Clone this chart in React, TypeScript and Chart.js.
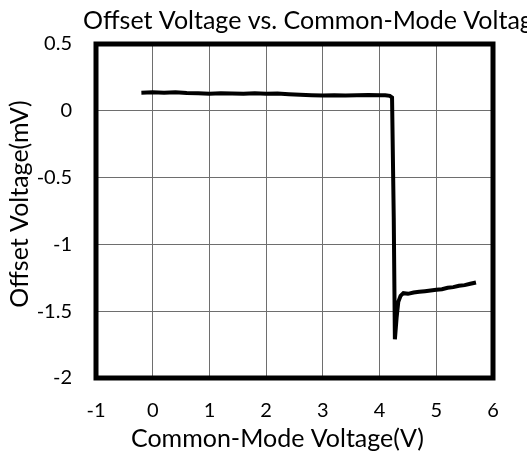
import React, { useEffect, useRef } from 'react';
import { Chart, registerables } from 'chart.js';

Chart.register(...registerables);

// ---- data ----
const voltageX: number[] = [
  -0.2, 0.0, 0.2, 0.4, 0.6, 0.8, 1.0, 1.2, 1.4, 1.6, 1.8, 2.0, 2.2, 2.4, 2.6, 2.8, 3.0,
  3.2, 3.4, 3.6, 3.8, 4.0, 4.1, 4.18, 4.22, 4.25, 4.27, 4.30, 4.33, 4.37, 4.42, 4.5,
  4.6, 4.7, 4.8, 4.9, 5.0, 5.1, 5.2, 5.3, 5.4, 5.5, 5.6, 5.7,
];
const offsetY: number[] = [
  0.135, 0.138, 0.136, 0.139, 0.133, 0.131, 0.128, 0.132, 0.130, 0.127, 0.131, 0.128, 0.129, 0.124, 0.120, 0.117, 0.114,
  0.116, 0.115, 0.117, 0.118, 0.116, 0.117, 0.112, 0.10, -0.80, -1.71, -1.55, -1.43, -1.385, -1.365, -1.37,
  -1.36, -1.355, -1.35, -1.345, -1.34, -1.335, -1.325, -1.32, -1.31, -1.305, -1.295, -1.285,
];

const xTickValues: number[] = [-1, 0, 1, 2, 3, 4, 5, 6];
const xTickLabels: string[] = ['-1', '0', '1', '2', '3', '4', '5', '6'];
const yTickValues: number[] = [0.5, 0, -0.5, -1, -1.5, -2];
const yTickLabels: string[] = ['0.5', '0', '-0.5', '-1', '-1.5', '-2'];

const chartTitle = 'Offset Voltage vs. Common-Mode Voltage';
const xAxisTitle = 'Common-Mode Voltage(V)';
const yAxisTitle = 'Offset Voltage(mV)';

const FONT = 'Lato, "Open Sans", sans-serif';
const TITLE_SIZE = 25;

const labelFor = (values: number[], labels: string[], v: number) => {
  const i = values.findIndex((t) => Math.abs(t - v) < 1e-9);
  return i >= 0 ? labels[i] : '';
};

// chart title and axis titles, placed as in the reference (Excel-style layout)
const textPlugin = {
  id: 'excelTexts',
  afterDraw(chart: any) {
    const { ctx, chartArea } = chart;
    ctx.save();
    ctx.font = `${TITLE_SIZE}px ${FONT}`;
    ctx.fillStyle = '#000';
    ctx.textBaseline = 'alphabetic';
    // chart title (overflows the right edge like the reference)
    ctx.textAlign = 'left';
    ctx.fillText(chartTitle, 83, 29);
    // x axis title
    ctx.textAlign = 'center';
    ctx.fillText(xAxisTitle, chartArea.left + (chartArea.right - chartArea.left) * 0.457, 447);
    // y axis title
    ctx.translate(28, chartArea.top + (chartArea.bottom - chartArea.top) * 0.479);
    ctx.rotate(-Math.PI / 2);
    ctx.fillText(yAxisTitle, 0, 0);
    ctx.restore();
  },
};

const framePlugin = {
  id: 'frame',
  afterDraw(chart: any) {
    const { ctx, chartArea } = chart;
    ctx.save();
    ctx.strokeStyle = '#000';
    ctx.lineWidth = 5;
    ctx.lineJoin = 'miter';
    ctx.strokeRect(
      chartArea.left,
      chartArea.top,
      chartArea.right - chartArea.left,
      chartArea.bottom - chartArea.top
    );
    ctx.restore();
  },
};

export default function App() {
  const ref = useRef<HTMLCanvasElement | null>(null);

  useEffect(() => {
    if (!ref.current) return;
    const points = voltageX.map((x, i) => ({ x, y: offsetY[i] }));
    const chart = new Chart(ref.current, {
      type: 'scatter',
      data: {
        datasets: [
          {
            data: points,
            showLine: true,
            borderColor: '#000',
            backgroundColor: '#000',
            borderWidth: 4,
            pointRadius: 0,
            tension: 0,
          },
        ],
      },
      options: {
        animation: false,
        responsive: false,
        devicePixelRatio: 1,
        layout: { padding: { top: 44, right: 34, left: 0, bottom: 0 } },
        plugins: {
          legend: { display: false },
          title: { display: false },
          tooltip: { enabled: false },
        },
        scales: {
          x: {
            type: 'linear',
            min: -1,
            max: 6,
            afterFit: (s: any) => {
              s.height = 73;
            },
            afterBuildTicks: (s: any) => {
              s.ticks = xTickValues.map((v) => ({ value: v }));
            },
            ticks: {
              padding: 21,
              color: '#000',
              font: { family: FONT, size: 20 },
              callback: (v: any) => labelFor(xTickValues, xTickLabels, Number(v)),
            },
            grid: { color: '#6e6e6e', lineWidth: 1, drawTicks: false },
            border: { display: false },
          },
          y: {
            type: 'linear',
            min: -2,
            max: 0.5,
            afterFit: (s: any) => {
              s.width = 96;
            },
            afterBuildTicks: (s: any) => {
              s.ticks = yTickValues.map((v) => ({ value: v }));
            },
            ticks: {
              padding: 24,
              color: '#000',
              font: { family: FONT, size: 20 },
              callback: (v: any) => labelFor(yTickValues, yTickLabels, Number(v)),
            },
            grid: { color: '#6e6e6e', lineWidth: 1, drawTicks: false },
            border: { display: false },
          },
        },
      },
      plugins: [textPlugin, framePlugin],
    });
    return () => chart.destroy();
  }, []);

  return (
    <div style={{ position: 'fixed', left: 0, top: 0, width: 527, height: 451, overflow: 'hidden', background: '#fff' }}>
      <canvas ref={ref} width={527} height={451} style={{ display: 'block' }} />
    </div>
  );
}
